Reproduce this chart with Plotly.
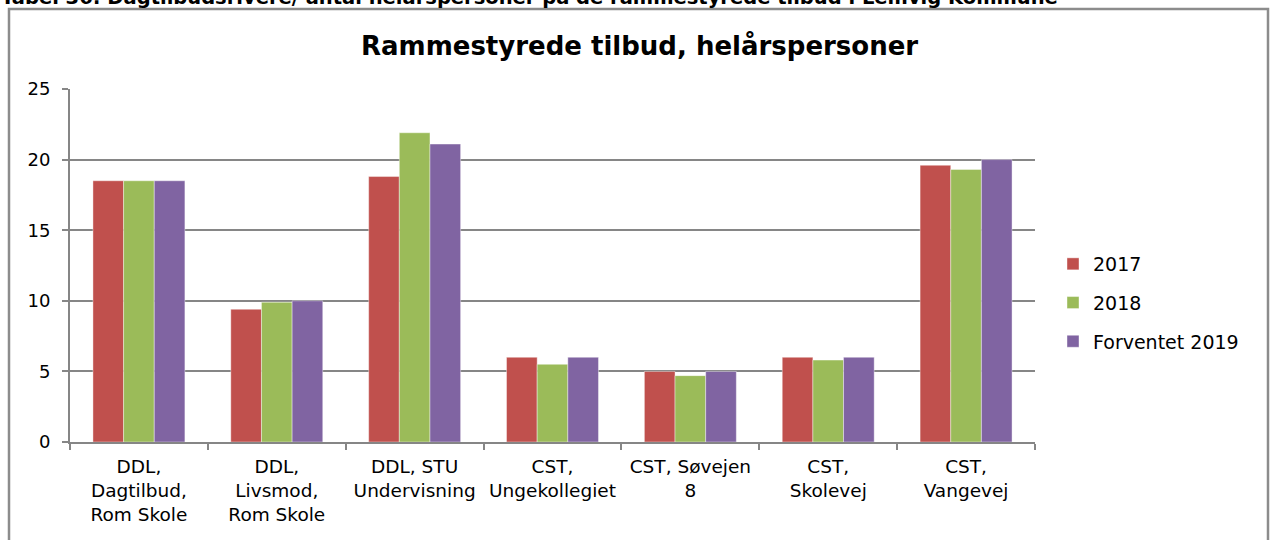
import plotly.graph_objects as go

categories = [
    "DDL,<br>Dagtilbud,<br>Rom Skole",
    "DDL,<br>Livsmod,<br>Rom Skole",
    "DDL, STU<br>Undervisning",
    "CST,<br>Ungekollegiet",
    "CST, Søvejen<br>8",
    "CST,<br>Skolevej",
    "CST,<br>Vangevej",
]
series_names = ["2017", "2018", "Forventet 2019"]
values_2017 = [18.5, 9.4, 18.8, 6.0, 5.0, 6.0, 19.6]
values_2018 = [18.5, 9.9, 21.9, 5.5, 4.7, 5.8, 19.3]
values_2019 = [18.5, 10.0, 21.1, 6.0, 5.0, 6.0, 20.0]
colors = ["#C0504D", "#9BBB59", "#8064A2"]
y_ticks = [0, 5, 10, 15, 20, 25]

title_text = "Rammestyrede tilbud, helårspersoner"
caption_text = "Tabel 36: Dagtilbudsrivere/ antal helårspersoner på de rammestyrede tilbud i Lemvig Kommune"

FONT = "DejaVu Sans, Verdana, sans-serif"
W, H = 1272, 540
L, R, T, B = 70, 1035, 89, 442  # plot area in px

def px_x(px):
    return (px - L) / (R - L)

def px_y(py):
    return (B - py) / (B - T)

fig = go.Figure()
for name, vals, col in zip(series_names, [values_2017, values_2018, values_2019], colors):
    fig.add_trace(go.Bar(
        x=categories, y=vals, name=name, legendgroup=name,
        marker=dict(color=col, line=dict(color="rgba(255,255,255,0.5)", width=0.8)),
    ))

fig.update_layout(
    width=W, height=H,
    margin=dict(l=L, r=W - R, t=T, b=H - B, pad=0),
    paper_bgcolor="white", plot_bgcolor="white",
    barmode="group", bargap=0.333, bargroupgap=0,
    font=dict(family=FONT, color="#000000", size=16),
    showlegend=True,
    legend=dict(
        x=px_x(1053), y=px_y(245), xanchor="left", yanchor="top",
        font=dict(family=FONT, size=19, color="#000000"),
        itemwidth=30, tracegroupgap=11, traceorder="grouped",
        bgcolor="rgba(0,0,0,0)",
    ),
    xaxis=dict(
        showline=True, linecolor="#868686", linewidth=2,
        ticks="outside", ticklen=6, tickcolor="#868686", tickwidth=2,
        tickson="boundaries", showgrid=False,
        tickfont=dict(family=FONT, size=18.5, color="#000000"),
        ticklabelstandoff=7,
        fixedrange=True,
    ),
    yaxis=dict(
        range=[0, 25], tickvals=y_ticks,
        showline=True, linecolor="#868686", linewidth=2,
        ticks="outside", ticklen=6, tickcolor="#868686", tickwidth=2,
        showgrid=True, gridcolor="#868686", gridwidth=2,
        zeroline=False,
        tickfont=dict(family=FONT, size=18, color="#000000"),
        ticklabelstandoff=8,
        fixedrange=True,
    ),
)

# chart title
fig.add_annotation(
    text="<b>" + title_text + "</b>", xref="paper", yref="paper",
    x=px_x(639), y=px_y(45), xanchor="center", yanchor="middle",
    showarrow=False, font=dict(family=FONT, size=26, color="#000000"),
)

# clipped caption above the chart frame
fig.add_annotation(
    text="<b>" + caption_text + "</b>", xref="paper", yref="paper",
    x=px_x(-1), y=px_y(-3), xanchor="left", yanchor="middle",
    showarrow=False, font=dict(family=FONT, size=19.5, color="#000000"),
)

# chart frame
fig.add_shape(
    type="rect", xref="paper", yref="paper",
    x0=px_x(9), x1=px_x(1268), y0=px_y(9), y1=px_y(560),
    line=dict(color="#8C8C8C", width=2.5), fillcolor="rgba(0,0,0,0)", layer="below",
)

fig.write_html(
    "out.html",
    config={"displayModeBar": False},
    post_script="document.body.style.margin='0';document.body.style.overflow='hidden';",
)
